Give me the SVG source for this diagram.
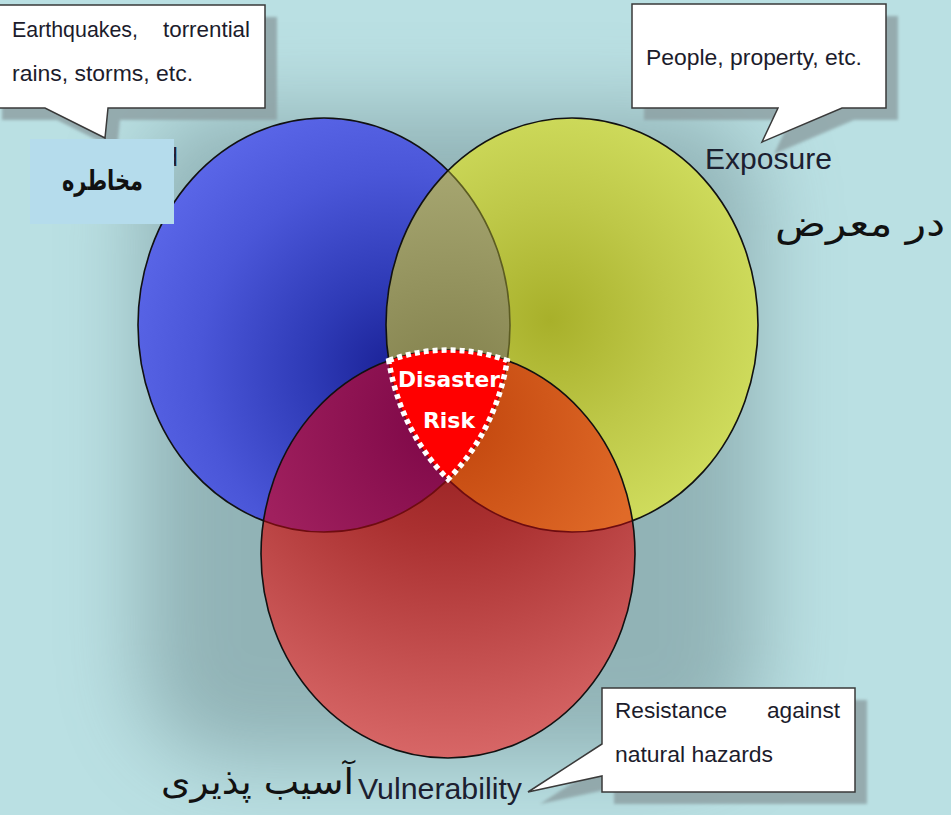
<svg xmlns="http://www.w3.org/2000/svg" width="951" height="815" viewBox="0 0 951 815">
  <style>
    .lbl { font-family: "Liberation Sans", Arial, sans-serif; fill: #1c2030; }
    .note { font-family: "Liberation Sans", Arial, sans-serif; font-size: 22px; fill: #1c1c2c; }
    .fa { font-family: "DejaVu Sans", "Noto Sans", sans-serif; fill: #111; }
    .box { fill: #ffffff; stroke: #3a3a3a; stroke-width: 1.5; }
    .boxshadow { fill: #8c9fa2; opacity: 0.8; }
    .edge { fill: none; stroke: #111; stroke-width: 1.6; }
    .risk { font-family: "DejaVu Sans", "Liberation Sans", sans-serif; font-weight: bold; font-size: 22px; fill: #ffffff; text-anchor: middle; }
  </style>
  <defs>
    <filter id="soft" x="-50%" y="-50%" width="200%" height="200%">
      <feGaussianBlur stdDeviation="42"/>
    </filter>
    <filter id="shblur" x="-10%" y="-10%" width="120%" height="130%">
      <feGaussianBlur stdDeviation="1.5"/>
    </filter>
    <clipPath id="cBlue"><ellipse cx="324" cy="325" rx="186" ry="207"/></clipPath>
    <clipPath id="cYellow"><ellipse cx="572" cy="325" rx="186" ry="207"/></clipPath>
    <clipPath id="cRed"><ellipse cx="448" cy="554" rx="187" ry="204"/></clipPath>

    <radialGradient id="gBlue" gradientUnits="userSpaceOnUse" cx="395" cy="370" r="280">
      <stop offset="0" stop-color="#1a2196"/>
      <stop offset="0.3" stop-color="#2e3ab6"/>
      <stop offset="0.7" stop-color="#4a56d8"/>
      <stop offset="1" stop-color="#5a66e8"/>
    </radialGradient>
    <radialGradient id="gYellow" gradientUnits="userSpaceOnUse" cx="550" cy="320" r="260">
      <stop offset="0" stop-color="#a8b02a"/>
      <stop offset="0.45" stop-color="#bec848"/>
      <stop offset="1" stop-color="#d6e465"/>
    </radialGradient>
    <radialGradient id="gRed" gradientUnits="userSpaceOnUse" cx="448" cy="400" r="380">
      <stop offset="0" stop-color="#8e1a1c"/>
      <stop offset="0.35" stop-color="#aa3030"/>
      <stop offset="1" stop-color="#dc6c6c"/>
    </radialGradient>
    <radialGradient id="gOlive" gradientUnits="userSpaceOnUse" cx="448" cy="400" r="240">
      <stop offset="0" stop-color="#807e4a"/>
      <stop offset="1" stop-color="#a8a872"/>
    </radialGradient>
    <radialGradient id="gPurple" gradientUnits="userSpaceOnUse" cx="448" cy="420" r="200">
      <stop offset="0" stop-color="#7c0646"/>
      <stop offset="1" stop-color="#a0205e"/>
    </radialGradient>
    <radialGradient id="gOrange" gradientUnits="userSpaceOnUse" cx="448" cy="420" r="200">
      <stop offset="0" stop-color="#c0440c"/>
      <stop offset="1" stop-color="#e06a28"/>
    </radialGradient>
  </defs>

  <!-- backdrop with soft shadow under the circle cluster -->
  <rect x="0" y="0" width="951" height="815" fill="#bae0e3"/>
  <rect x="140" y="110" width="620" height="650" rx="90" fill="#5a7679" opacity="0.42" filter="url(#soft)"/>

  <!-- Hazard -->
  <g id="node-hazard">
    <ellipse cx="324" cy="325" rx="186" ry="207" fill="url(#gBlue)"/>
    <ellipse class="edge" cx="324" cy="325" rx="186" ry="207"/>
    <text class="lbl" x="178" y="166" font-size="26" text-anchor="end">Hazard</text>
  </g>

  <!-- Exposure -->
  <g id="node-exposure">
    <ellipse cx="572" cy="325" rx="186" ry="207" fill="url(#gYellow)"/>
    <ellipse cx="572" cy="325" rx="186" ry="207" fill="url(#gOlive)" clip-path="url(#cBlue)"/>
    <ellipse cx="324" cy="325" rx="186" ry="207" fill="none" stroke="#5c5c22" stroke-width="1.6" clip-path="url(#cYellow)"/>
    <ellipse class="edge" cx="572" cy="325" rx="186" ry="207"/>
    <text class="lbl" x="705" y="169" font-size="29" textLength="127" lengthAdjust="spacingAndGlyphs">Exposure</text>
    <text class="fa" x="945" y="236" font-size="36" text-anchor="end" textLength="170" lengthAdjust="spacingAndGlyphs">در معرض</text>
  </g>

  <!-- Vulnerability -->
  <g id="node-vulnerability">
    <ellipse cx="448" cy="554" rx="187" ry="204" fill="url(#gRed)"/>
    <ellipse cx="448" cy="554" rx="187" ry="204" fill="url(#gPurple)" clip-path="url(#cBlue)"/>
    <ellipse cx="448" cy="554" rx="187" ry="204" fill="url(#gOrange)" clip-path="url(#cYellow)"/>
    <g clip-path="url(#cRed)" fill="none" stroke="#6e0c10" stroke-width="1.6">
      <ellipse cx="324" cy="325" rx="186" ry="207"/>
      <ellipse cx="572" cy="325" rx="186" ry="207"/>
    </g>
    <ellipse class="edge" cx="448" cy="554" rx="187" ry="204"/>
    <text class="lbl" x="358" y="799" font-size="29" textLength="164" lengthAdjust="spacingAndGlyphs">Vulnerability</text>
    <text class="fa" x="354" y="794" font-size="36" text-anchor="end" textLength="193" lengthAdjust="spacingAndGlyphs">آسیب پذیری</text>
  </g>

  <!-- Disaster Risk: common area of the three circles -->
  <g id="node-risk">
    <path d="M388.8,360.5 A187,204 0 0,1 507.2,360.5 A186,207 0 0,1 448,479.3 A186,207 0 0,1 388.8,360.5 Z" fill="#ff0000"/>
    <path d="M388.8,360.5 A187,204 0 0,1 507.2,360.5 A186,207 0 0,1 448,479.3 A186,207 0 0,1 388.8,360.5 Z" fill="none" stroke="#ffffff" stroke-width="5.5" stroke-dasharray="5 4"/>
    <text class="risk" x="449" y="387" textLength="102" lengthAdjust="spacingAndGlyphs">Disaster</text>
    <text class="risk" x="449" y="428">Risk</text>
  </g>

  <!-- callouts -->
  <g id="callouts">
    <g id="callout-hazard">
      <path class="boxshadow" filter="url(#shblur)" transform="translate(12,12)" d="M-10,5 H265 V108 H108 L105,138 L45,108 H-10 Z"/>
      <path class="box" d="M-10,5 H265 V108 H108 L105,138 L45,108 H-10 Z"/>
      <text class="note" x="12" y="37" textLength="126" lengthAdjust="spacingAndGlyphs">Earthquakes,</text>
      <text class="note" x="163" y="37" textLength="87" lengthAdjust="spacingAndGlyphs">torrential</text>
      <text class="note" x="12" y="81" textLength="181" lengthAdjust="spacingAndGlyphs">rains, storms, etc.</text>
    </g>
    <g id="callout-exposure">
      <path class="boxshadow" filter="url(#shblur)" transform="translate(12,12)" d="M632,4 H886 V108 H842 L762,142 L778,108 H632 Z"/>
      <path class="box" d="M632,4 H886 V108 H842 L762,142 L778,108 H632 Z"/>
      <text class="note" x="646" y="65" textLength="216" lengthAdjust="spacingAndGlyphs">People, property, etc.</text>
    </g>
    <g id="callout-vulnerability">
      <path class="boxshadow" filter="url(#shblur)" transform="translate(12,12)" d="M602,688 H855 V792 H602 V776 L528,792 L602,744 Z"/>
      <path class="box" d="M602,688 H855 V792 H602 V776 L528,792 L602,744 Z"/>
      <text class="note" x="615" y="718" textLength="112" lengthAdjust="spacingAndGlyphs">Resistance</text>
      <text class="note" x="767" y="718" textLength="73" lengthAdjust="spacingAndGlyphs">against</text>
      <text class="note" x="615" y="762" textLength="158" lengthAdjust="spacingAndGlyphs">natural hazards</text>
    </g>
  </g>

  <!-- Persian title box for Hazard -->
  <g id="node-hazard-fa">
    <rect x="30" y="139" width="144" height="85" fill="#b5dcec"/>
    <text class="fa" x="143" y="190" font-size="28" font-weight="bold" text-anchor="end" textLength="81" lengthAdjust="spacingAndGlyphs">مخاطره</text>
  </g>
</svg>
